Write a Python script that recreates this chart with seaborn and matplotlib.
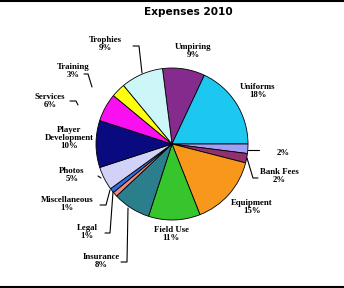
import matplotlib
matplotlib.use("Agg")
import matplotlib.pyplot as plt
import seaborn as sns
from matplotlib.lines import Line2D

sns.set_theme(style="white")
plt.rcParams['font.family'] = ['Liberation Serif', 'DejaVu Sans']

categories = ["Umpiring", "Uniforms", "", "Bank Fees", "Equipment", "Field Use",
              "Insurance", "Legal", "Miscellaneous", "Photos", "Player\nDevelopment",
              "Services", "Training", "Trophies"]
values = [9, 18, 2, 2, 15, 11, 8, 1, 1, 5, 10, 6, 3, 9]
pct_labels = ["9%", "18%", "2%", "2%", "15%", "11%", "8%", "1%", "1%", "5%", "10%",
              "6%", "3%", "9%"]
colors = ["#862B8E", "#1DC8F0", "#A0A0F8", "#90306E", "#F7981D", "#36C52C",
          "#2B7F8C", "#F08A80", "#2F6FE0", "#D2D2F8", "#0A0A80", "#F810F0",
          "#FFFF10", "#CCF6F8"]

W, H = 344, 288
fig = plt.figure(figsize=(W / 100, H / 100), dpi=100)
ax = fig.add_axes([0, 0, 1, 1])

cx, cy, r = 172, H - 144, 76
ax.pie(values, colors=colors, startangle=97.2, counterclock=False,
       center=(cx, cy), radius=r, frame=True,
       wedgeprops=dict(edgecolor='black', linewidth=0.6))
ax.set_xlim(0, W)
ax.set_ylim(0, H)
ax.set_aspect('equal')
ax.axis('off')

# label positions (pixel coords from top-left)
label_pos = {
    0: (193, 51),
    1: (258, 91),
    2: (283, 153),
    3: (279, 176),
    4: (252, 207),
    5: (171, 234),
    6: (101, 261),
    7: (87, 232),
    8: (67, 204),
    9: (72, 175),
    10: (69, 138),
    11: (50, 101),
    12: (73, 71),
    13: (105, 44),
}
for i, (x, y) in label_pos.items():
    txt = categories[i] + ("\n" if categories[i] else "") + pct_labels[i]
    ax.text(x, H - y, txt, ha='center', va='center', fontsize=6.3,
            fontweight='bold', linespacing=1.05, color='black')

# leader lines (pixel coords from top-left)
leaders = [
    [(248, 150), (259, 150)],
    [(247, 158), (253, 178), (258, 178)],
    [(128, 208), (127, 262), (121, 262)],
    [(113, 192), (110, 233), (105, 233)],
    [(110, 190), (106, 205), (100, 205)],
    [(101, 178), (98, 176)],
    [(78, 105), (76, 101), (70, 101)],
    [(92, 87), (88, 74), (84, 74)],
    [(142, 73), (139, 46), (133, 46)],
]
for pts in leaders:
    xs = [p[0] for p in pts]
    ys = [H - p[1] for p in pts]
    ax.add_line(Line2D(xs, ys, color='black', linewidth=0.8))

fig.text(188 / W, 1 - 12 / H, "Expenses 2010", ha='center', va='center',
         fontsize=7.6, fontweight='bold', family=['DejaVu Sans'], color='black')

# top and bottom border lines
ax.add_line(Line2D([0, W], [H - 0.5, H - 0.5], color='black', linewidth=1.5))
ax.add_line(Line2D([0, W], [1.5, 1.5], color='black', linewidth=1.5))

fig.savefig("out.png", dpi=100)
